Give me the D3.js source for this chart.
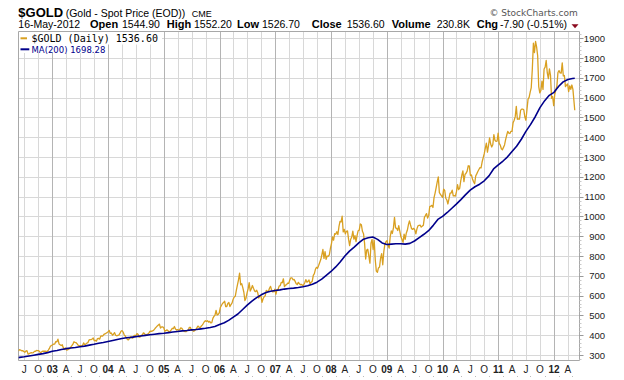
<!DOCTYPE html>
<html><head><meta charset="utf-8">
<script src="https://cdn.jsdelivr.net/npm/d3@7"></script>
<style>body{margin:0;background:#fff}svg{display:block}</style>
</head><body><svg id="c" width="624" height="380"></svg>
<script>
// ---- DATA: weekly (Friday) closes of $GOLD ----
const gold2002 = [320,327,325,321,322,318,314,320,322,305,306,310,312,311,312,318,319,323,322,322,315,312,317,320,319,319,318,318,325,333,345,348];
const gold2003 = [352,355,355,368,367,380,356,352,348,352,337,328,336,325,326,330,332,340,347,355,367,364,362,356,349,346,347,346,348,361,352,355,360,362,375,378,378,380,386,372,374,370,383,384,380,395,396,396,404,407,410,413];
const gold2004 = [418,424,409,411,400,405,413,400,397,399,400,409,420,423,416,402,396,388,378,377,384,393,389,385,397,400,397,408,405,390,392,399,402,412,408,402,403,406,410,419,420,420,423,428,435,441,447,452,456,436,442,442,438];
const gold2005 = [420,423,427,423,416,420,427,435,433,444,431,426,428,425,428,437,435,427,420,418,418,424,425,440,439,425,424,420,423,429,437,446,441,437,445,451,459,468,473,470,473,466,470,462,464,485,495,501,525,502,505,513];
const gold2006 = [540,550,560,565,572,545,545,560,565,545,555,563,582,593,597,628,654,680,714,655,660,640,617,575,587,614,634,666,623,635,651,637,624,620,627,614,588,597,599,566,584,594,599,626,622,622,637,647,627,619,620,632];
const gold2007 = [607,630,631,648,650,667,665,685,645,653,655,663,662,679,690,690,680,682,672,660,656,667,660,655,657,650,655,665,681,668,672,679,658,668,672,702,711,733,743,738,752,767,782,806,833,788,822,783,800,799,806,838];
const gold2008 = [863,897,880,913,910,923,908,948,975,972,1001,922,935,912,925,927,885,853,885,896,926,885,903,873,904,928,931,962,958,925,913,864,785,830,834,800,764,865,884,833,880,780,724,718,740,745,790,812,756,822,860,872];
const gold2009 = [878,853,840,898,927,914,942,995,942,940,929,953,924,897,883,869,911,884,915,930,958,978,957,938,935,940,932,912,937,953,955,956,946,951,955,995,1005,1014,992,1004,1050,1052,1056,1045,1095,1118,1145,1175,1200,1120,1112,1104];
const gold2010 = [1096,1138,1131,1092,1083,1063,1090,1118,1118,1133,1104,1105,1103,1125,1161,1136,1142,1180,1208,1230,1176,1212,1218,1229,1256,1255,1208,1210,1189,1175,1165,1204,1215,1227,1237,1247,1245,1275,1296,1317,1345,1370,1325,1358,1397,1366,1351,1362,1413,1385,1379,1380,1421];
const gold2011 = [1369,1360,1342,1337,1349,1361,1388,1410,1430,1421,1419,1430,1430,1474,1486,1504,1556,1491,1493,1492,1536,1542,1542,1539,1502,1486,1541,1593,1601,1628,1651,1745,1875,1828,1884,1857,1812,1656,1624,1636,1683,1642,1745,1754,1788,1725,1696,1746,1713,1597,1606,1560];
const gold2012 = [1616,1639,1660,1727,1737,1725,1724,1776,1710,1712,1656,1663,1669,1631,1660,1642,1664,1642,1581];
const lastDate = "2012-05-16", lastClose = 1536.60;

// MA(200): value on the 1st of each month
const maFirst = ["2002-05-24", 286];
const ma2002 = [288,291,295,299,303,307,312];            // Jun-Dec
const ma2003 = [319,323,328,332,335,338,342,345,350,354,359,363];
const ma2004 = [368,373,378,383,387,389,393,396,399,402,405,408];
const ma2005 = [410,413,416,419,422,424,427,429,432,435,439,444];
const ma2006 = [454,463,475,491,507,530,552,572,590,604,616,622];
const ma2007 = [626,629,633,636,638,641,645,650,657,668,683,702];
const ma2008 = [722,745,770,800,825,845,866,885,892,896,884,866];
const ma2009 = [858,860,862,862,860,864,876,893,910,928,955,985];
const ma2010 = [1000,1020,1040,1062,1085,1110,1133,1150,1163,1180,1205,1240];
const ma2011 = [1260,1280,1300,1328,1355,1390,1430,1465,1505,1550,1585,1612];
const ma2012 = [1627,1658,1680,1692,1697];               // Jan-May
const maLast = 1698.28;

const yTicks = [300,400,500,600,700,800,900,1000,1100,1200,1300,1400,1500,1600,1700,1800,1900];
const quarterLetters = ["", "A", "J", "O"];
const headerLabels = ["Open","High","Low","Close","Volume","Chg"];
const headerValues = ["1544.90","1552.20","1526.70","1536.60","230.8K","-7.90 (-0.51%)"];

// ---- BUILD SERIES ----
const parse = d3.timeParse("%Y-%m-%d");
const goldYears = [[2002,gold2002],[2003,gold2003],[2004,gold2004],[2005,gold2005],[2006,gold2006],[2007,gold2007],[2008,gold2008],[2009,gold2009],[2010,gold2010],[2011,gold2011],[2012,gold2012]];
const price = [];
goldYears.forEach(([yr, vals]) => {
  const start = yr === 2002 ? new Date(2002,4,24) : new Date(yr,0,1);
  const fr = d3.timeFriday.range(start, new Date(yr+1,0,1));
  vals.forEach((v,i) => { if (fr[i]) price.push({d: fr[i], v}); });
});
price.push({d: parse(lastDate), v: lastClose});

const maYears = [[2002,ma2002,5],[2003,ma2003,0],[2004,ma2004,0],[2005,ma2005,0],[2006,ma2006,0],[2007,ma2007,0],[2008,ma2008,0],[2009,ma2009,0],[2010,ma2010,0],[2011,ma2011,0],[2012,ma2012,0]];
const ma = [{d: parse(maFirst[0]), v: maFirst[1]}];
maYears.forEach(([yr, vals, m0]) => vals.forEach((v,i) => ma.push({d: new Date(yr, m0+i, 1), v})));
ma.push({d: parse(lastDate), v: maLast});

// ---- LAYOUT ----
const svg = d3.select("#c");
const X0 = 18.5, X1 = 579.5, Y0 = 31.5, Y1 = 360.5;
const x = d3.scaleTime().domain([new Date(2003,0,1), new Date(2012,0,1)]).range([52.3, 554]);
const y = d3.scaleLinear().domain([300,1900]).range([355, 38.3]);
const crisp = v => Math.round(v) + 0.5;
const FONT = "'Liberation Sans', Arial, sans-serif";

svg.append("defs").append("clipPath").attr("id","plot")
  .append("rect").attr("x",X0).attr("y",Y0).attr("width",X1-X0).attr("height",Y1-Y0);

// horizontal grid
svg.append("g").selectAll("line").data(yTicks).join("line")
  .attr("x1",X0).attr("x2",X1).attr("y1",d=>crisp(y(d))).attr("y2",d=>crisp(y(d)))
  .attr("stroke","#d8d8d8").attr("stroke-width",1);

// vertical grid (quarters; year lines darker)
const quarters = d3.timeMonth.every(3).range(new Date(2002,5,1), new Date(2012,6,1));
svg.append("g").selectAll("line").data(quarters).join("line")
  .attr("x1",d=>crisp(x(d))).attr("x2",d=>crisp(x(d))).attr("y1",Y0).attr("y2",Y1)
  .attr("stroke",d=>d.getMonth()===0 ? "#b4b4b4" : "#d8d8d8").attr("stroke-width",1);

// frame
svg.append("path").attr("d",`M${X0},${Y1}V${Y0}H${X1}V${Y1}H${X0}`)
  .attr("fill","none").attr("stroke","#a8a8a8").attr("stroke-width",1);

// lines
const line = d3.line().x(d=>x(d.d)).y(d=>y(d.v));
const plot = svg.append("g").attr("clip-path","url(#plot)");
plot.append("path").datum(price).attr("d",line).attr("fill","none")
  .attr("stroke","#D9A021").attr("stroke-width",1.3).attr("stroke-linejoin","round");
plot.append("path").datum(ma).attr("d",line).attr("fill","none")
  .attr("stroke","#00008B").attr("stroke-width",1.6).attr("stroke-linejoin","round");

// right axis ticks
const minor = d3.range(280, 1940, 20);
svg.append("g").selectAll("line").data(minor.filter(v=>y(v)>Y0 && y(v)<Y1)).join("line")
  .attr("x1",X1).attr("x2",d=>d%100===0 ? X1+4 : X1+2)
  .attr("y1",d=>crisp(y(d))).attr("y2",d=>crisp(y(d)))
  .attr("stroke",d=>d%100===0 ? "#999" : "#c8c8c8");
svg.append("g").selectAll("text").data(yTicks).join("text")
  .attr("x",605).attr("y",d=>y(d)+3.5).attr("text-anchor","end")
  .attr("font-family",FONT).attr("font-size",9.5).attr("fill","#222").text(d=>d);

// bottom axis labels
svg.append("g").selectAll("text").data(quarters).join("text")
  .attr("x",d=>x(d)).attr("y",373.3).attr("text-anchor","middle")
  .attr("font-family",FONT).attr("font-size",10)
  .attr("font-weight",d=>d.getMonth()===0 ? "bold" : "normal").attr("fill","#222")
  .text(d=>d.getMonth()===0 ? d3.timeFormat("%y")(d) : quarterLetters[d.getMonth()/3]);
// small dots under axis
const mids = d3.timeMonth.every(3).range(new Date(2002,6,15), new Date(2012,5,1)).map(d=>d3.timeDay.offset(d,30));
svg.append("g").selectAll("rect").data(mids.filter(d=>x(d)<X1)).join("rect")
  .attr("x",d=>Math.round(x(d))).attr("y",376).attr("width",1).attr("height",1).attr("fill","#bbb");

// legend
svg.append("rect").attr("x",X0+0.5).attr("y",Y0+0.5).attr("width",143).attr("height",12.5).attr("fill","#fff");
svg.append("rect").attr("x",X0+0.5).attr("y",44).attr("width",88).attr("height",9).attr("fill","#fff");
svg.append("line").attr("x1",20.5).attr("x2",27).attr("y1",38.3).attr("y2",38.3).attr("stroke","#D9A021").attr("stroke-width",2);
svg.append("text").attr("x",31.5).attr("y",42.2).attr("font-family","'DejaVu Sans Mono', monospace").attr("font-size",10)
  .attr("fill","#000").text("$GOLD (Daily) 1536.60");
svg.append("line").attr("x1",20.5).attr("x2",29.3).attr("y1",49.3).attr("y2",49.3).attr("stroke","#00008B").attr("stroke-width",2);
svg.append("text").attr("x",31.5).attr("y",52.5).attr("font-family","'DejaVu Sans', Verdana, sans-serif").attr("font-size",8.5)
  .attr("fill","#00008B").text("MA(200) " + maLast.toFixed(2));

// header
const h = svg.append("g").attr("font-family",FONT).attr("fill","#000");
h.append("text").attr("x",18.3).attr("y",16.7).attr("font-size",13).attr("font-weight","bold").text("$GOLD");
h.append("text").attr("x",65.7).attr("y",16.7).attr("font-size",10.5).text("(Gold - Spot Price (EOD))");
h.append("text").attr("x",191.7).attr("y",16.7).attr("font-size",9).text("CME");
h.append("text").attr("x",18.3).attr("y",28.3).attr("font-size",10.5).text("16-May-2012");
const labX = [90,166.7,237,311.7,391.7,476.7], valX = [122,194,262,346.7,436.7,500];
headerLabels.forEach((t,i)=>{
  h.append("text").attr("x",labX[i]).attr("y",28.3).attr("font-size",11).attr("font-weight","bold").text(t);
  h.append("text").attr("x",valX[i]).attr("y",28.3).attr("font-size",10.5).text(headerValues[i]);
});
svg.append("path").attr("d","M571.5,24.2H578.5L575,28.3Z").attr("fill","#8B0A1E");
svg.append("text").attr("x",577.7).attr("y",16).attr("text-anchor","end")
  .attr("font-family","'DejaVu Sans', Verdana, sans-serif").attr("font-size",9).attr("fill","#555")
  .text("\u00A9 StockCharts.com");
</script></body></html>
